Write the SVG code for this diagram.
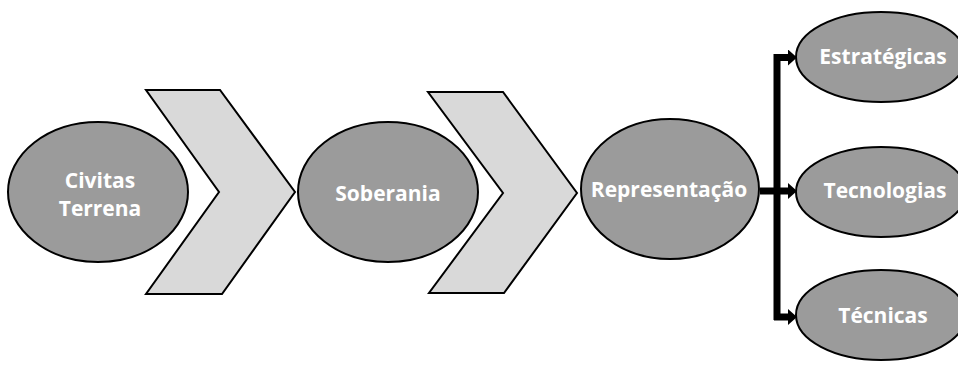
<svg xmlns="http://www.w3.org/2000/svg" width="958" height="371" viewBox="0 0 958 371">
<style>
.node ellipse{fill:#9b9b9b;stroke:#000;stroke-width:2}
.chev{fill:#d9d9d9;stroke:#000;stroke-width:2;stroke-linejoin:miter}
.lbl{font-family:"Open Sans","Noto Sans",sans-serif;font-weight:bold;font-size:21px;fill:#fff;text-anchor:middle}
.conn{stroke:#000;stroke-width:7;fill:none}
</style>
<defs>
<marker id="ah" markerUnits="userSpaceOnUse" markerWidth="10" markerHeight="16" refX="0" refY="8" orient="auto">
<path d="M0,0 L9,8 L0,16 Z" fill="#000"/>
</marker>
</defs>
<g id="chevron1"><polygon class="chev" points="146,90 220,90 295,192 222,294 146,294 219,192"/></g>
<g id="chevron2"><polygon class="chev" points="428,92 503,92 577,193 504,293 429,293 503,193"/></g>
<g id="civitas" class="node"><ellipse cx="98" cy="192" rx="90" ry="70"/>
<text class="lbl" x="100" y="188">Civitas</text><text class="lbl" x="100" y="216">Terrena</text></g>
<g id="soberania" class="node"><ellipse cx="388" cy="192" rx="90" ry="70"/>
<text class="lbl" x="388" y="201">Soberania</text></g>
<g id="representacao" class="node"><ellipse cx="670" cy="189" rx="89" ry="70"/>
<text class="lbl" x="669" y="197">Representação</text></g>
<g id="estrategicas" class="node"><ellipse cx="881" cy="57" rx="85" ry="45"/>
<text class="lbl" x="883" y="64">Estratégicas</text></g>
<g id="tecnologias" class="node"><ellipse cx="881" cy="192" rx="85" ry="45"/>
<text class="lbl" x="885" y="198">Tecnologias</text></g>
<g id="tecnicas" class="node"><ellipse cx="881" cy="315" rx="85" ry="45"/>
<text class="lbl" x="883" y="323">Técnicas</text></g>
<g id="connectors">
<path class="conn" d="M777,54 V320"/>
<path class="conn" d="M760,191 H788" marker-end="url(#ah)"/>
<path class="conn" d="M774,57.5 H788" marker-end="url(#ah)"/>
<path class="conn" d="M774,317 H788" marker-end="url(#ah)"/>
</g>
</svg>
